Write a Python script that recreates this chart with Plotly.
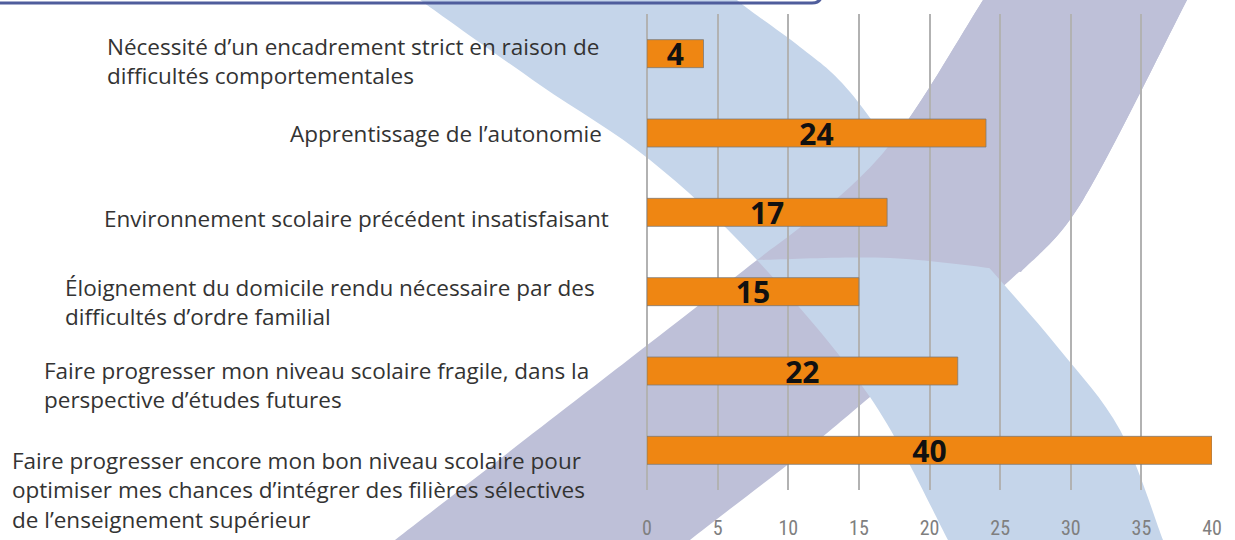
import plotly.graph_objects as go

# ---------------- data ----------------
categories = [
    "Nécessité d’un encadrement strict en raison de<br>difficultés comportementales",
    "Apprentissage de l’autonomie",
    "Environnement scolaire précédent insatisfaisant",
    "Éloignement du domicile rendu nécessaire par des<br>difficultés d’ordre familial",
    "Faire progresser mon niveau scolaire fragile, dans la<br>perspective d’études futures",
    "Faire progresser encore mon bon niveau scolaire pour<br>optimiser mes chances d’intégrer des filières sélectives<br>de l’enseignement supérieur",
]
values = [4, 24, 17, 15, 22, 40]
x_ticks = [0, 5, 10, 15, 20, 25, 30, 35, 40]

# ---------------- layout geometry (pixels) ----------------
W, H = 1235, 540
ML, MR, MT, MB = 647, 23, 14, 50
PW = W - ML - MR
PH = H - MT - MB


def px(x):
    return (x - ML) / PW


def py(y):
    return (H - MB - y) / PH


def smooth(points):
    P = [(px(x), py(y)) for x, y in points]
    d = f"M{P[0][0]:.4f},{P[0][1]:.4f}"
    for i in range(len(P) - 1):
        p0 = P[i - 1] if i > 0 else P[i]
        p1 = P[i]
        p2 = P[i + 1]
        p3 = P[i + 2] if i + 2 < len(P) else P[i + 1]
        c1 = (p1[0] + (p2[0] - p0[0]) / 6, p1[1] + (p2[1] - p0[1]) / 6)
        c2 = (p2[0] - (p3[0] - p1[0]) / 6, p2[1] - (p3[1] - p1[1]) / 6)
        d += f" C{c1[0]:.4f},{c1[1]:.4f} {c2[0]:.4f},{c2[1]:.4f} {p2[0]:.4f},{p2[1]:.4f}"
    return d


def outline(*edges):
    d = smooth(edges[0])
    for e in edges[1:]:
        d += " L" + smooth(e)[1:]
    return d + " Z"


# decorative background bands (pixel outlines)
purple_a = [(992, -12), (983, 0), (908, 120), (850, 187), (757, 260), (628, 360), (395, 540), (380, 552)]
purple_b = [(680, 552), (690, 540), (800, 455), (870, 397), (950, 330), (1021, 270), (1083, 200), (1187, 0), (1193, -12)]
blue_a = [(405, -12), (427, 5), (540, 85), (650, 160), (757, 260), (870, 397), (948, 540), (952, 552)]
blue_b = [(1168, 552), (1163, 540), (1120, 430), (1060, 350), (1000, 280), (930, 200), (850, 92), (800, 47), (743, 5), (725, -12)]
purple_top_a = [(992, -12), (983, 0), (908, 120), (850, 187), (757, 260)]
purple_top_cut = [(757, 260), (890, 258), (1021, 272)]
purple_top_b = [(1021, 272), (1083, 200), (1187, 0), (1193, -12)]

shapes = [
    dict(type="path", xref="paper", yref="paper", path=outline(purple_a, purple_b),
         fillcolor="#BEC0D8", line=dict(width=0), layer="below"),
    dict(type="path", xref="paper", yref="paper", path=outline(blue_a, blue_b),
         fillcolor="#C5D5EA", line=dict(width=0), layer="below"),
    dict(type="path", xref="paper", yref="paper", path=outline(purple_top_a, purple_top_cut, purple_top_b),
         fillcolor="#BEC0D8", line=dict(width=0), layer="below"),
    dict(type="path", xref="paper", yref="paper",
         path=(f"M{px(-10):.4f},{py(3):.4f} L{px(812):.4f},{py(3):.4f} "
               f"Q{px(822):.4f},{py(3):.4f} {px(822):.4f},{py(-8):.4f}"),
         line=dict(color="#4F5D9C", width=3), layer="above"),
]

# category labels: left x of text block, vertical offset of block centre vs bar centre (px)
label_left = [105, 288, 102, 63, 42, 10]
label_dy = [7, 0, 6, 10, 14, 40]

annotations = []
for cat, lx, dy in zip(categories, label_left, label_dy):
    annotations.append(dict(
        x=px(lx), xref="paper", xanchor="left",
        y=cat, yref="y", yanchor="middle", yshift=-dy,
        text=cat, showarrow=False, align="left",
        font=dict(family="Open Sans", size=22.5, color="#333333"),
    ))

fig = go.Figure(go.Bar(
    x=values, y=categories, orientation="h",
    width=0.353,
    marker=dict(color="#EF8612", line=dict(color="rgba(120,120,120,0.75)", width=1)),
    text=[str(v) for v in values], textposition="inside", insidetextanchor="middle",
    textangle=0, constraintext="none",
    textfont=dict(family="Open Sans", size=30, color="#111111", weight="bold"),
    hoverinfo="skip",
))

fig.update_layout(
    width=W, height=H,
    margin=dict(l=ML, r=MR, t=MT, b=MB, pad=0, autoexpand=False),
    paper_bgcolor="white", plot_bgcolor="rgba(0,0,0,0)",
    showlegend=False,
    shapes=shapes, annotations=annotations,
    xaxis=dict(range=[0, 40], tickvals=x_ticks, ticktext=[str(t) for t in x_ticks],
               showgrid=True, gridcolor="#B2B2B2", gridwidth=1.5,
               zeroline=True, zerolinecolor="#B2B2B2", zerolinewidth=1.5,
               showline=False, ticks="", ticklabelstandoff=24, automargin=False,
               tickfont=dict(family="Liberation Sans Narrow, Roboto Condensed, Roboto", size=20, color="#7F7F7F"),
               fixedrange=True),
    yaxis=dict(categoryorder="array", categoryarray=categories, autorange="reversed",
               showticklabels=False, showgrid=False, zeroline=False, showline=False,
               automargin=False, fixedrange=True),
)

fig.write_html("out.html", config={"displayModeBar": False},
               post_script="document.body.style.margin='0';")
